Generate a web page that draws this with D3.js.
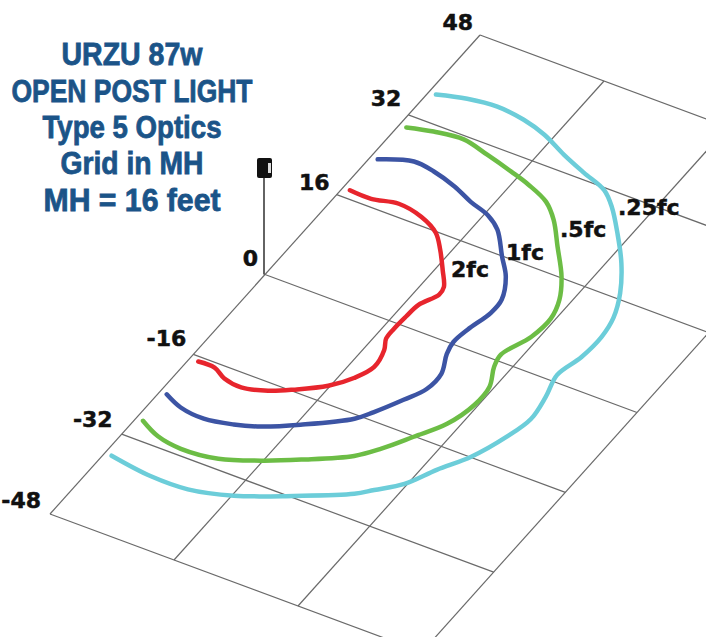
<!DOCTYPE html>
<html>
<head>
<meta charset="utf-8">
<script src="https://cdn.jsdelivr.net/npm/d3@7"></script>
<style>
  html, body { margin: 0; padding: 0; background: #fff; }
  svg { display: block; }
</style>
</head>
<body>
<div id="chart"></div>
<script>
// grid in feet: x = distance in front of the pole, y = along the road
var gridX = [0, 16, 32, 48];
var gridY = [48, 32, 16, 0, -16, -32, -48];
var titleLines = ["URZU 87w", "OPEN POST LIGHT", "Type 5 Optics", "Grid in MH", "MH = 16 feet"];
var contourNames = ["2fc", "1fc", ".5fc", ".25fc"];

// isolines, [x, y] in feet
var red2fc = [[0.9,17.4],[3.7,17.3],[6.8,18.1],[10.1,17.4],[12.9,15.8],[14.8,13.5],[16.8,10.6],[18.4,8.1],[18.6,6.7],[17.5,4.0],[17.3,1.5],[17.2,-1.0],[17.3,-2.9],[18.1,-4.7],[18.6,-7.8],[17.6,-10.6],[15.8,-13.2],[12.8,-15.7],[10.4,-17.3],[7.5,-18.3],[5.1,-17.9],[3.2,-16.8],[1.1,-16.8]];
var blue1fc = [[0.9,23.6],[4.6,25.3],[7.4,24.9],[10.7,23.8],[13.6,22.4],[16.5,21.3],[18.6,19.7],[21.4,15.9],[23.5,13.1],[25.1,9.4],[25.2,6.9],[24.4,3.0],[24.1,0.4],[24.5,-1.8],[25.7,-5.1],[25.6,-8.2],[24.3,-11.1],[22.5,-14.6],[21.2,-16.7],[16.5,-20.6],[12.8,-23.1],[10.0,-24.3],[6.6,-25.1],[3.4,-24.7],[0.9,-23.5]];
var green05fc = [[0.9,30.0],[3.9,30.9],[7.5,31.4],[11.1,30.4],[14.9,29.2],[17.7,28.2],[20.9,26.6],[23.2,24.3],[25.9,20.5],[28.9,16.2],[30.7,12.6],[31.5,9.3],[31.2,5.5],[29.8,1.1],[30.2,-1.1],[31.5,-4.4],[31.6,-8.0],[30.6,-12.3],[28.5,-16.1],[26.4,-19.7],[24.4,-22.3],[19.6,-25.8],[15.8,-28.2],[11.5,-30.3],[7.0,-30.9],[3.7,-30.3],[0.9,-28.8]];
var cyan025fc = [[0.9,36.6],[4.3,37.7],[7.9,38.2],[11.6,37.7],[14.9,36.6],[18.5,34.7],[22.0,33.1],[25.5,31.6],[27.7,29.5],[30.5,25.9],[33.5,21.6],[36.0,17.0],[37.5,12.9],[38.0,9.4],[37.8,5.2],[37.0,1.2],[37.8,-2.7],[38.3,-6.9],[37.5,-10.9],[35.8,-15.9],[33.6,-19.8],[31.7,-23.7],[29.3,-26.3],[27.7,-28.0],[22.0,-31.7],[16.2,-35.0],[11.2,-36.6],[6.5,-36.7],[0.9,-35.8]];

function init() {
    var w = 706;
    var h = 637;

    var svg = d3.select("#chart")
                .append("svg")
                .attr("width", w)
                .attr("height", h);

    // oblique view: each grid axis adds to both screen x and screen y
    var xToPx = d3.scaleLinear().domain([0, 48]).range([264, 636]);
    var xToPy = d3.scaleLinear().domain([0, 48]).range([275, 413]);
    var yToPx = d3.scaleLinear().domain([-48, 48]).range([-214, 216]);
    var yToPy = d3.scaleLinear().domain([-48, 48]).range([239, -240]);

    function px(d) { return xToPx(d[0]) + yToPx(d[1]); }
    function py(d) { return xToPy(d[0]) + yToPy(d[1]); }

    var gridLine = d3.line().x(px).y(py);

    // Grid
    var grid = svg.append("g")
                  .attr("fill", "none")
                  .attr("stroke", "#6a6a6a")
                  .attr("stroke-width", 1.2);

    gridX.forEach(function(x) {
        grid.append("path").attr("d", gridLine([[x, -48], [x, 48]]));
    });
    gridY.forEach(function(y) {
        grid.append("path").attr("d", gridLine([[0, y], [48, y]]));
    });

    // Pole and luminaire
    svg.append("line")
       .attr("x1", 264).attr("y1", 177)
       .attr("x2", 264).attr("y2", py([0, 0]))
       .attr("stroke", "#222")
       .attr("stroke-width", 1.4);
    svg.append("rect")
       .attr("x", 257).attr("y", 158)
       .attr("width", 15).attr("height", 20)
       .attr("rx", 2)
       .attr("fill", "#111");
    svg.append("rect")
       .attr("x", 268).attr("y", 163)
       .attr("width", 3).attr("height", 10)
       .attr("fill", "#ddd");

    // Isolines
    var contour = d3.line().x(px).y(py).curve(d3.curveCatmullRom.alpha(0.5));

    var series = [
        { values: cyan025fc, color: "#6ccdd9" },
        { values: green05fc, color: "#6cbd45" },
        { values: blue1fc, color: "#3c54a4" },
        { values: red2fc, color: "#e7252d" }
    ];

    svg.selectAll(".isoline")
       .data(series)
       .enter()
       .append("path")
       .attr("class", "isoline")
       .attr("d", function(d) { return contour(d.values); })
       .attr("fill", "none")
       .attr("stroke", function(d) { return d.color; })
       .attr("stroke-width", 4.5)
       .attr("stroke-linecap", "round")
       .attr("stroke-linejoin", "round");

    // Axis labels on the left grid edge
    var tickDx = [-7, -7, -7, -7, -7, -9, -9];
    var tickDy = [-5, -9, -5, -9, -8, -7, -6];
    svg.selectAll(".tick")
       .data(gridY)
       .enter()
       .append("text")
       .attr("class", "tick")
       .attr("x", function(d, i) { return px([0, d]) + tickDx[i]; })
       .attr("y", function(d, i) { return py([0, d]) + tickDy[i]; })
       .attr("text-anchor", "end")
       .attr("font-family", "DejaVu Sans")
       .attr("font-weight", "bold")
       .attr("font-size", 22)
       .attr("fill", "#111")
       .attr("stroke", "#111")
       .attr("stroke-width", 0.5)
       .text(function(d) { return d; });

    // Isoline labels
    var labelX = [451, 506, 560, 618];
    var labelY = [277, 260, 237, 215];
    svg.selectAll(".contourLabel")
       .data(contourNames)
       .enter()
       .append("text")
       .attr("class", "contourLabel")
       .attr("x", function(d, i) { return labelX[i]; })
       .attr("y", function(d, i) { return labelY[i]; })
       .attr("font-family", "DejaVu Sans")
       .attr("font-weight", "bold")
       .attr("font-size", 22)
       .attr("fill", "#111")
       .attr("stroke", "#111")
       .attr("stroke-width", 0.5)
       .text(function(d) { return d; });

    // Title block, each line fitted to its width since no condensed face is installed
    var titleY = [65, 102, 138, 174, 211];
    var titleW = [141, 241, 179, 143, 177];
    svg.selectAll(".title")
       .data(titleLines)
       .enter()
       .append("text")
       .attr("class", "title")
       .attr("x", 132)
       .attr("y", function(d, i) { return titleY[i]; })
       .attr("textLength", function(d, i) { return titleW[i]; })
       .attr("lengthAdjust", "spacingAndGlyphs")
       .attr("text-anchor", "middle")
       .attr("font-family", "Liberation Sans")
       .attr("font-weight", "bold")
       .attr("font-size", 31)
       .attr("fill", "#1b5488")
       .attr("stroke", "#1b5488")
       .attr("stroke-width", 0.8)
       .text(function(d) { return d; });
}

window.onload = init;
</script>
</body>
</html>
